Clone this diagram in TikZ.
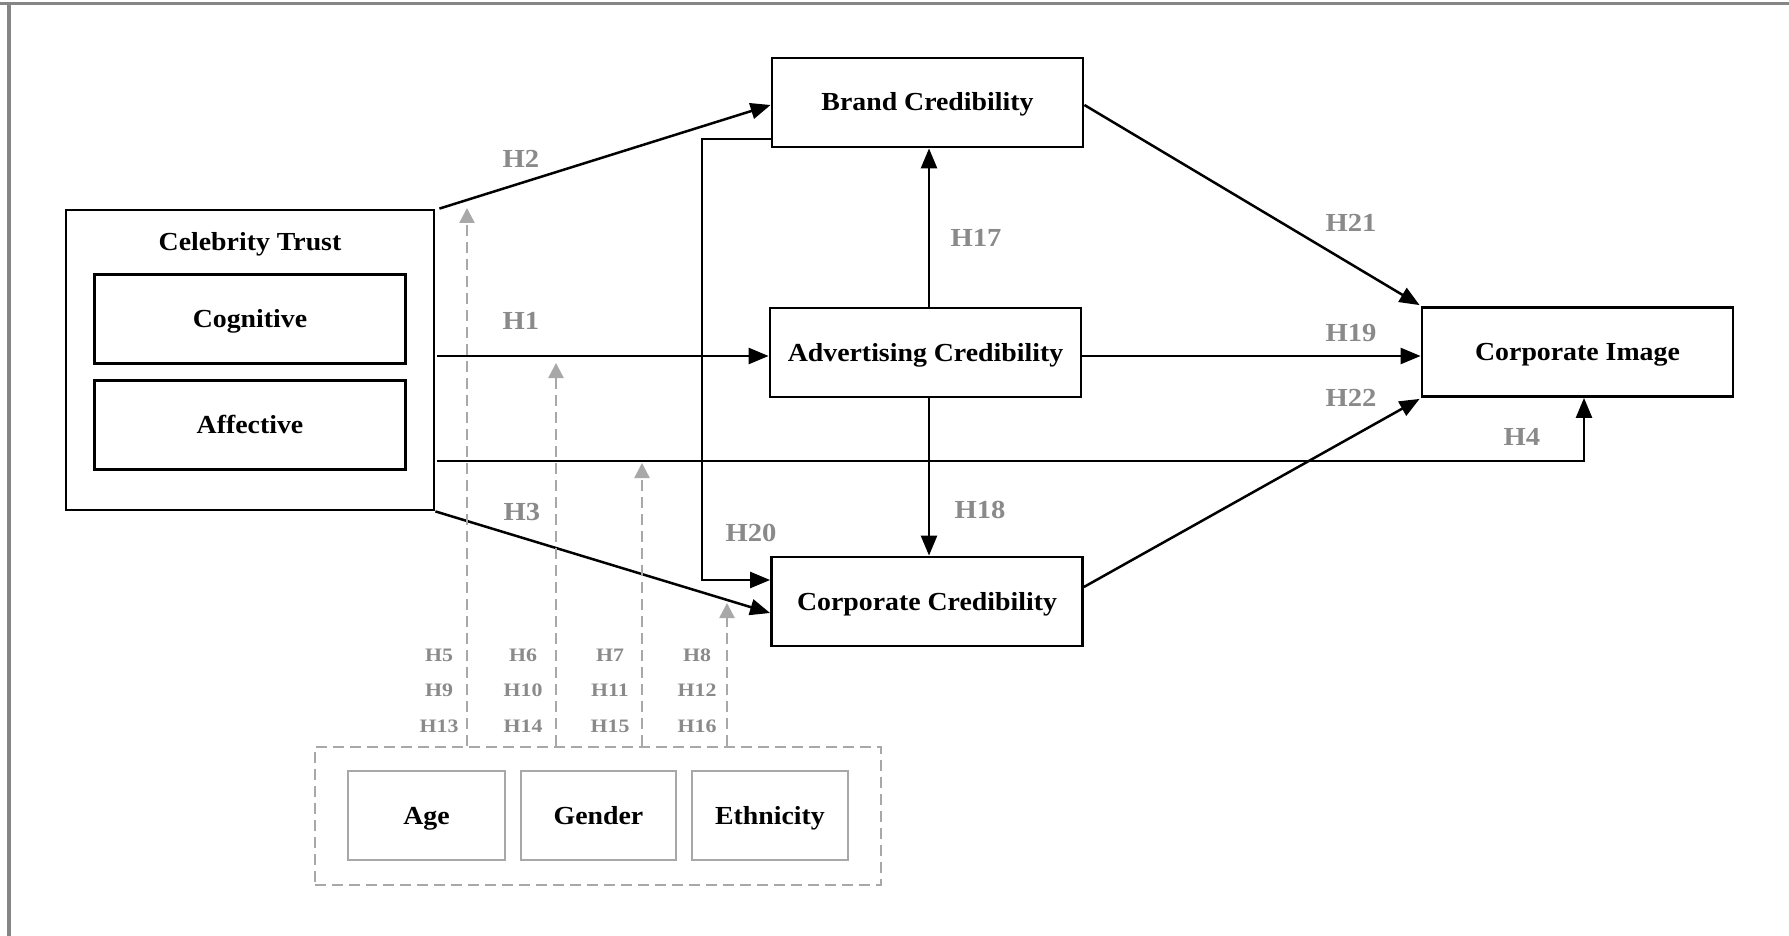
\documentclass[tikz,border=0pt]{standalone}
\usepackage{fontspec}
\setmainfont{Liberation Serif}[FakeStretch=1.07]
\usetikzlibrary{arrows.meta}
\definecolor{lblgray}{HTML}{8A8A8A}
\definecolor{dashgray}{HTML}{A8A8A8}
\definecolor{modgray}{HTML}{A8A8A8}
\definecolor{framegray}{HTML}{858585}
\tikzset{
  x=1pt, y=-1pt,
  bx/.style={draw=black, line width=2.8pt, inner sep=0pt, text height=17pt, text depth=0pt,
    font=\fontsize{26}{30}\selectfont\bfseries, minimum width=311pt, minimum height=89pt},
  modbox/.style={bx, draw=modgray, minimum width=156pt},
  ttl/.style={inner sep=0pt, text height=17pt, text depth=0pt, font=\fontsize{26}{30}\selectfont\bfseries},
  hl/.style={inner sep=0pt, text height=17pt, text depth=0pt, text=lblgray,
    font=\fontsize{26}{30}\selectfont\bfseries\addfontfeature{FakeStretch=1.1}},
  ml/.style={inner sep=0pt, text height=12.5pt, text depth=0pt, text=lblgray,
    font=\fontsize{19}{22}\selectfont\bfseries\addfontfeature{FakeStretch=1.15}},
  arr/.style={line width=2.5pt, -{Triangle[length=20pt,width=16pt]}},
  darr/.style={draw=dashgray, line width=2.5pt, dash pattern=on 11pt off 6pt,
    -{Triangle[length=15pt,width=15pt,fill=dashgray]}},
}
\begin{document}
\begin{tikzpicture}
\useasboundingbox (0,0) rectangle (1789,936);
\fill[white] (0,0) rectangle (1789,936);
% frame
\draw[framegray, line width=3pt] (0,4) -- (1789,4);
\draw[framegray, line width=4pt] (9,3) -- (9,936);

% celebrity trust
\node[bx, minimum width=368pt, minimum height=300pt] (ct) at (250,360) {};
\node[ttl] (ctt) at (250,242) {Celebrity Trust};
\node[bx] (cog) at (250,319) {Cognitive};
\node[bx] (aff) at (250,425) {Affective};

% constructs
\node[bx] (brand) at (927.5,102.5) {Brand Credibility};
\node[bx] (adv) at (925.5,352.5) {Advertising Credibility};
\node[bx] (cc) at (927,601.5) {Corporate Credibility};
\node[bx] (ci) at (1577.5,352) {Corporate Image};

% moderators
\node[draw=modgray, line width=2.5pt, dash pattern=on 11pt off 6pt, minimum width=566pt, minimum height=138pt, inner sep=0pt] (mod) at (598,816) {};
\node[modbox, minimum width=157pt] (age) at (426.5,815.5) {Age};
\node[modbox, minimum width=155pt] (gen) at (598.5,815.5) {Gender};
\node[modbox] (eth) at (770,815.5) {Ethnicity};

% coordinates
\coordinate (h1s) at (437,356);
\coordinate (h4s) at (437,461);
\coordinate (vx) at (929,0);
\coordinate (h20c) at (702,580);
\coordinate (d1) at (467,208);
\coordinate (d2) at (556,363);
\coordinate (d3) at (642,463);
\coordinate (d4) at (727,603);

% connectors
\draw[arr] ([xshift=4pt]ct.north east) -- ([yshift=-2.5pt]brand.west);
\draw[arr] (h1s) -- (h1s -| adv.west);
\draw[arr] (h4s) -| ([xshift=6.5pt]ci.south);
\draw[arr] (ct.south east) -- ([yshift=-11.5pt]cc.west);
\draw[arr] (adv.north -| vx) -- (brand.south -| vx);
\draw[arr] (adv.south -| vx) -- (cc.north -| vx);
\draw[arr] (adv.east |- h1s) -- (ci.west |- h1s);
\draw[arr] ([yshift=-2.5pt]brand.east) -- ([xshift=-1pt,yshift=1pt]ci.north west);
\draw[arr] ([yshift=14.5pt]cc.east) -- ([xshift=-1pt,yshift=-1pt]ci.south west);
\draw[arr] ([yshift=-36.5pt]brand.west) -| (h20c) -- (h20c -| cc.west);

% dashed moderator arrows
\draw[darr] (mod.north -| d1) -- (d1);
\draw[darr] (mod.north -| d2) -- (d2);
\draw[darr] (mod.north -| d3) -- (d3);
\draw[darr] (mod.north -| d4) -- (d4);

% hypothesis labels
\node[hl] (lh2) at (521,159) {H2};
\node[hl] (lh1) at (521,321) {H1};
\node[hl] (lh3) at (522,512) {H3};
\node[hl] (lh17) at (976,238) {H17};
\node[hl] (lh18) at (980,510) {H18};
\node[hl] (lh20) at (751,533) {H20};
\node[hl] (lh21) at (1351,223) {H21};
\node[hl] (lh19) at (1351,333) {H19};
\node[hl] (lh22) at (1351,398) {H22};
\node[hl] (lh4) at (1522,437) {H4};

% moderator labels
\node[ml] (m5) at (439,655) {H5};
\node[ml] (m9) at (439,690) {H9};
\node[ml] (m13) at (439,726) {H13};
\node[ml] (m6) at (523,655) {H6};
\node[ml] (m10) at (523,690) {H10};
\node[ml] (m14) at (523,726) {H14};
\node[ml] (m7) at (610,655) {H7};
\node[ml] (m11) at (610,690) {H11};
\node[ml] (m15) at (610,726) {H15};
\node[ml] (m8) at (697,655) {H8};
\node[ml] (m12) at (697,690) {H12};
\node[ml] (m16) at (697,726) {H16};
\end{tikzpicture}
\end{document}
